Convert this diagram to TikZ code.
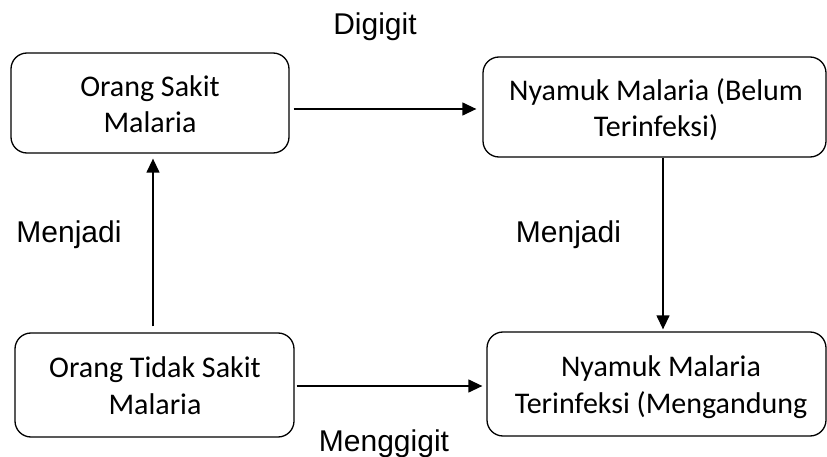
\documentclass[tikz,border=0pt]{standalone}
\usepackage{fontspec}
\setmainfont{Carlito}
\newfontfamily\labelfont{Liberation Sans}
\usetikzlibrary{arrows.meta}
\begin{document}
\begin{tikzpicture}[x=1pt,y=-1pt,
  boxnode/.style={draw, line width=1.3pt, rounded corners=16pt, inner sep=0pt},
  boxtext/.style={align=center, font=\fontsize{30}{36.5}\selectfont, inner sep=0pt, anchor=base},
  lbl/.style={font=\labelfont\fontsize{30}{34}\selectfont, inner sep=0pt, anchor=base},
  arr/.style={line width=1.3pt, -{Triangle[length=14pt,width=13pt]}}]
\useasboundingbox (0,0) rectangle (827,457);
\node[boxnode, minimum width=278pt, minimum height=100pt] (b1) at (150,103) {};
\node[boxnode, minimum width=343pt, minimum height=100pt] (b2) at (654.5,107) {};
\node[boxnode, minimum width=279pt, minimum height=104pt] (b3) at (154.5,385) {};
\node[boxnode, minimum width=339pt, minimum height=104pt] (b4) at (656.5,384) {};
\node[boxtext] (t1) at (150,133) {Orang Sakit\\Malaria};
\node[boxtext] (t2) at (656,137) {Nyamuk Malaria (Belum\\Terinfeksi)};
\node[boxtext] (t3) at (155,414) {Orang Tidak Sakit\\Malaria};
\node[boxtext] (t4) at (661,413) {Nyamuk Malaria\\Terinfeksi (Mengandung};
\node[lbl] (l1) at (375,35) {Digigit};
\node[lbl] (l2) at (69,243) {Menjadi};
\node[lbl] (l3) at (568.5,243) {Menjadi};
\node[lbl] (l4) at (384,451) {Menggigit};
\draw[arr, shorten <=4pt, shorten >=6pt] ([yshift=-6pt]b1.east) -- ([yshift=-6pt]b1.east -| b2.west);
\draw[arr, shorten >=2pt] ([xshift=8.5pt]b2.south) -- ([xshift=8.5pt]b2.south |- b4.north);
\draw[arr, shorten <=6pt, shorten >=5pt] ([xshift=-1.5pt]b3.north) -- ([xshift=-1.5pt]b3.north |- b1.south);
\draw[arr, shorten <=2pt, shorten >=4pt] ([yshift=-1pt]b3.east) -- ([yshift=-1pt]b3.east -| b4.west);
\end{tikzpicture}
\end{document}
